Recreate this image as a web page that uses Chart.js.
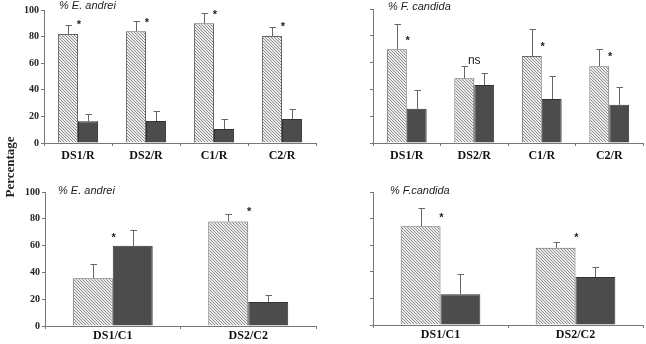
<!DOCTYPE html>
<html><head><meta charset="utf-8">
<script src="https://cdn.jsdelivr.net/npm/chart.js@4/dist/chart.umd.min.js"></script>
<style>
html,body{margin:0;padding:0;background:#fff;}
#wrap{position:relative;width:646px;height:344px;overflow:hidden;}
canvas{position:absolute;}
.ttl{position:absolute;font:italic 11px "Liberation Sans",Arial,sans-serif;color:#222;white-space:nowrap;line-height:11px;}
#ylab{position:absolute;left:-23px;top:160px;width:66px;text-align:center;font:bold 13px "Liberation Serif","Times New Roman",serif;color:#222;transform:rotate(-90deg);line-height:14px;}
</style></head>
<body><div id="wrap">
<canvas id="c1" width="323" height="170" style="left:0;top:0"></canvas>
<canvas id="c2" width="323" height="170" style="left:323px;top:0"></canvas>
<canvas id="c3" width="323" height="174" style="left:0;top:170px"></canvas>
<canvas id="c4" width="323" height="174" style="left:323px;top:170px"></canvas>
<div class="ttl" style="left:59px;top:0px">% E. andrei</div>
<div class="ttl" style="left:388px;top:1px">% F. candida</div>
<div class="ttl" style="left:58px;top:185px">% E. andrei</div>
<div class="ttl" style="left:390px;top:185px">% F.candida</div>
<div id="ylab">Percentage</div>
</div>
<script>
// ---- data ----
const catsR = ['DS1/R','DS2/R','C1/R','C2/R'];
const catsC = ['DS1/C1','DS2/C2'];
const yTicks = [0,20,40,60,80,100];

const andreiR_hatched = [82, 84, 90, 80.5];
const andreiR_hatchedErr = [6.7, 7.5, 8, 7];
const andreiR_dark = [16.3, 16.5, 10.5, 18];
const andreiR_darkErr = [5.2, 7.5, 7.3, 7.5];
const andreiR_sig = ['*','*','*','*'];
const andreiR_sigY = [91, 93, 98.7, 89.5];

const candidaR_hatched = [70, 48.3, 65, 57.3];
const candidaR_hatchedErr = [18.8, 9, 20, 13];
const candidaR_dark = [25.5, 43.2, 32.8, 28.5];
const candidaR_darkErr = [14.2, 8.8, 17.4, 13];
const candidaR_sig = ['*','ns','*','*'];
const candidaR_sigY = [78.7, 61.2, 74.5, 67];

const andreiC_hatched = [35.7, 78];
const andreiC_hatchedErr = [10.2, 5.4];
const andreiC_dark = [59.8, 18];
const andreiC_darkErr = [12, 5.5];
const andreiC_sig = ['*','*'];
const andreiC_sigY = [68.5, 87.9];

const candidaC_hatched = [74.3, 58];
const candidaC_hatchedErr = [13.7, 4.7];
const candidaC_dark = [23.2, 36];
const candidaC_darkErr = [15, 7.5];
const candidaC_sig = ['*','*'];
const candidaC_sigY = [83.3, 67.7];

// ---- drawing ----
function hatch(){
  const c=document.createElement('canvas'); c.width=c.height=3;
  const g=c.getContext('2d');
  g.fillStyle='#ececec'; g.fillRect(0,0,3,3);
  g.fillStyle='#8e8e8e';
  for(let i=0;i<3;i++) g.fillRect(i,i,1,1);
  return g.createPattern(c,'repeat');
}
const HATCH = hatch();

const extras = {
  id:'extras',
  afterDatasetsDraw(chart){
    const ctx=chart.ctx, ys=chart.scales.y, xs=chart.scales.x;
    const o=chart.options.plugins.extras;
    ctx.save();
    ctx.strokeStyle='#666'; ctx.lineWidth=1;
    chart.data.datasets.forEach((ds,i)=>{
      const meta=chart.getDatasetMeta(i);
      meta.data.forEach((el,j)=>{
        const x=Math.round(el.x)+0.5;
        const yTop=el.y;
        const yE=ys.getPixelForValue(ds.data[j]+o.errs[i][j]);
        ctx.beginPath();
        ctx.moveTo(x,yTop); ctx.lineTo(x,Math.round(yE)+0.5);
        ctx.moveTo(x-3,Math.round(yE)+0.5); ctx.lineTo(x+3.5,Math.round(yE)+0.5);
        ctx.stroke();
      });
    });
    ctx.fillStyle='#222'; ctx.textAlign='center'; ctx.textBaseline='alphabetic';
    o.sig.forEach((s,j)=>{
      const x=xs.getPixelForValue(j);
      const y=ys.getPixelForValue(o.sigY[j]);
      if(s==='*'){ ctx.font='bold 11px "Liberation Sans",Arial,sans-serif'; ctx.fillText(s,x+1,y+0.58*11); }
      else { ctx.font='12px "Liberation Sans",Arial,sans-serif'; ctx.fillText(s,x,y+0.26*12); }
    });
    ctx.restore();
  }
};

function make(id, cats, h, he, d, de, sig, sigY, geo){
  new Chart(document.getElementById(id),{
    type:'bar',
    data:{labels:cats,datasets:[
      {data:h, backgroundColor:HATCH, borderColor:'#666', borderWidth:1},
      {data:d, backgroundColor:'#4c4c4c', borderColor:'#333', borderWidth:1}
    ]},
    options:{
      responsive:false, animation:false, devicePixelRatio:1,
      layout:{padding:{top:geo.top,right:geo.right,left:0,bottom:0}},
      datasets:{bar:{categoryPercentage:0.59,barPercentage:1}},
      plugins:{legend:{display:false},tooltip:{enabled:false},
        extras:{errs:[he,de],sig:sig,sigY:sigY}},
      scales:{
        x:{
          grid:{display:true,drawOnChartArea:false,drawTicks:true,tickLength:3,color:'#777',offset:true},
          border:{display:true,color:'#777',width:1},
          ticks:{color:'#111',padding:geo.xpad,font:{family:'"Liberation Serif","Times New Roman",serif',size:12,weight:'bold'}},
          afterFit:s=>{s.height=geo.xh;}
        },
        y:{
          min:0,max:100,
          afterBuildTicks:s=>{s.ticks=yTicks.map(v=>({value:v}));},
          grid:{display:true,drawOnChartArea:false,drawTicks:true,tickLength:3,color:'#777'},
          border:{display:true,color:'#777',width:1},
          ticks:{color:'#222',padding:2,
            callback:v=>geo.labels?String(v):'',
            font:{family:'"Liberation Serif","Times New Roman",serif',size:10,weight:'bold'}},
          afterFit:s=>{s.width=geo.yw;}
        }
      }
    },
    plugins:[extras]
  });
}

make('c1',catsR,andreiR_hatched,andreiR_hatchedErr,andreiR_dark,andreiR_darkErr,andreiR_sig,andreiR_sigY,
  {top:10,right:7,yw:44,xh:27,xpad:3,labels:true});
make('c2',catsR,candidaR_hatched,candidaR_hatchedErr,candidaR_dark,candidaR_darkErr,candidaR_sig,candidaR_sigY,
  {top:9,right:3,yw:50,xh:27,xpad:3,labels:false});
make('c3',catsC,andreiC_hatched,andreiC_hatchedErr,andreiC_dark,andreiC_darkErr,andreiC_sig,andreiC_sigY,
  {top:22,right:7,yw:45,xh:18,xpad:0,labels:true});
make('c4',catsC,candidaC_hatched,candidaC_hatchedErr,candidaC_dark,candidaC_darkErr,candidaC_sig,candidaC_sigY,
  {top:22,right:3,yw:50,xh:19,xpad:0,labels:false});
</script>
</body></html>
